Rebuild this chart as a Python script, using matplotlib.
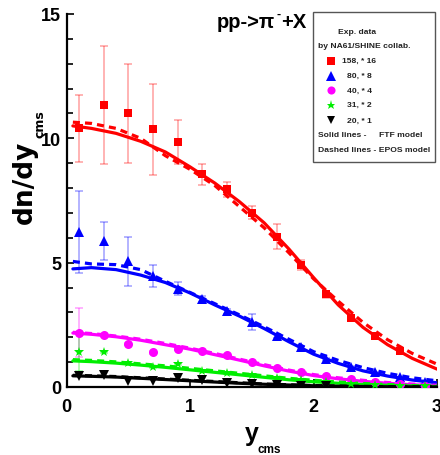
import matplotlib
matplotlib.use("Agg")
import matplotlib.pyplot as plt
from matplotlib import font_manager
from matplotlib.lines import Line2D
from matplotlib.patches import Rectangle

# ---------------- data ----------------
x_model = [0.05, 0.2, 0.4, 0.6, 0.8, 1.0, 1.2, 1.4, 1.6, 1.8, 2.0, 2.2, 2.4, 2.6, 2.8, 3.0]

ftf_158 = [10.5, 10.4, 10.2, 9.88, 9.45, 8.85, 8.2, 7.45, 6.6, 5.55, 4.4, 3.3, 2.4, 1.7, 1.15, 0.72]
epos_158 = [10.65, 10.6, 10.4, 10.0, 9.3, 8.75, 8.1, 7.25, 6.4, 5.4, 4.35, 3.45, 2.6, 1.9, 1.35, 0.92]
ftf_80 = [4.75, 4.8, 4.72, 4.5, 4.2, 3.78, 3.3, 2.85, 2.35, 1.82, 1.32, 0.95, 0.65, 0.44, 0.28, 0.17]
epos_80 = [5.05, 4.95, 4.92, 4.72, 4.25, 3.8, 3.35, 2.9, 2.42, 1.92, 1.42, 1.07, 0.78, 0.55, 0.37, 0.25]
ftf_40 = [2.17, 2.12, 2.02, 1.88, 1.7, 1.52, 1.3, 1.08, 0.85, 0.64, 0.46, 0.33, 0.23, 0.15, 0.09, 0.05]
epos_40 = [2.2, 2.15, 2.05, 1.92, 1.75, 1.56, 1.35, 1.12, 0.9, 0.68, 0.5, 0.37, 0.27, 0.18, 0.12, 0.07]
ftf_31 = [1.05, 1.02, 0.96, 0.88, 0.79, 0.69, 0.59, 0.49, 0.39, 0.29, 0.21, 0.15, 0.1, 0.07, 0.04, 0.02]
epos_31 = [1.1, 1.07, 1.01, 0.93, 0.85, 0.75, 0.65, 0.55, 0.45, 0.35, 0.27, 0.2, 0.14, 0.1, 0.06, 0.04]
ftf_20 = [0.45, 0.43, 0.4, 0.35, 0.3, 0.25, 0.2, 0.15, 0.11, 0.08, 0.05, 0.03, 0.02, 0.01, 0.005, 0.0]
epos_20 = [0.47, 0.45, 0.42, 0.37, 0.32, 0.27, 0.22, 0.17, 0.12, 0.09, 0.06, 0.04, 0.025, 0.015, 0.01, 0.005]

x_158 = [0.1, 0.3, 0.5, 0.7, 0.9, 1.1, 1.3, 1.5, 1.7, 1.9, 2.1, 2.3, 2.5, 2.7]
y_158 = [10.4, 11.33, 11.0, 10.36, 9.85, 8.55, 7.96, 7.01, 6.05, 4.92, 3.72, 2.79, 2.05, 1.45]
e_158 = [1.35, 2.38, 2.0, 1.83, 0.9, 0.43, 0.3, 0.25, 0.52, 0.2, 0.15, 0.12, 0.1, 0.08]

x_80 = [0.1, 0.3, 0.5, 0.7, 0.9, 1.1, 1.3, 1.5, 1.7, 1.9, 2.1, 2.3, 2.5, 2.7, 2.9]
y_80 = [6.25, 5.88, 5.05, 4.45, 3.96, 3.52, 3.05, 2.61, 2.05, 1.59, 1.12, 0.79, 0.59, 0.39, 0.21]
e_80 = [1.65, 0.77, 1.0, 0.44, 0.27, 0.12, 0.1, 0.32, 0.08, 0.06, 0.05, 0.04, 0.03, 0.03, 0.02]

x_40 = [0.1, 0.3, 0.5, 0.7, 0.9, 1.1, 1.3, 1.5, 1.7, 1.9, 2.1, 2.3, 2.5, 2.7, 2.9]
y_40 = [2.19, 2.08, 1.72, 1.39, 1.52, 1.43, 1.28, 0.99, 0.75, 0.59, 0.45, 0.32, 0.2, 0.12, 0.06]
e_40 = [1.0, 0.05, 0.05, 0.05, 0.05, 0.04, 0.04, 0.03, 0.03, 0.02, 0.02, 0.02, 0.01, 0.01, 0.01]

x_31 = [0.1, 0.3, 0.5, 0.7, 0.9, 1.1, 1.3, 1.5, 1.7, 1.9, 2.1, 2.3, 2.5, 2.7, 2.9]
y_31 = [1.41, 1.41, 0.95, 0.79, 0.92, 0.65, 0.55, 0.47, 0.38, 0.28, 0.2, 0.14, 0.1, 0.06, 0.04]
e_31 = [0.75, 0.03, 0.03, 0.03, 0.03, 0.02, 0.02, 0.02, 0.02, 0.01, 0.01, 0.01, 0.01, 0.01, 0.01]

x_20 = [0.1, 0.3, 0.5, 0.7, 0.9, 1.1, 1.3, 1.5, 1.7, 1.9, 2.1]
y_20 = [0.45, 0.5, 0.25, 0.25, 0.35, 0.3, 0.18, 0.13, 0.09, 0.06, 0.04]

legend_labels = ["158, * 16", "80, * 8", "40, * 4", "31, * 2", "20, * 1"]
x_ticks = [0, 1, 2, 3]
y_ticks = [0, 5, 10, 15]

# ---------------- fonts ----------------
def have(name):
    try:
        font_manager.findfont(font_manager.FontProperties(family=name), fallback_to_default=False)
        return True
    except Exception:
        return False

MAIN = "Liberation Sans" if have("Liberation Sans") else "DejaVu Sans"
plt.rcParams['font.family'] = [MAIN, 'DejaVu Sans']

W, H = 440, 456
fig = plt.figure(figsize=(W / 100, H / 100), dpi=100)
ax = fig.add_axes([66.7 / W, (H - 388) / H, 370.3 / W, 373 / H])

series = [
    (x_158, y_158, e_158, ftf_158, epos_158, 'red', 's', 6),
    (x_80, y_80, e_80, ftf_80, epos_80, '#0000ff', '^', 7.5),
    (x_40, y_40, e_40, ftf_40, epos_40, '#ff00ff', 'o', 6.5),
    (x_31, y_31, e_31, ftf_31, epos_31, '#00ee00', '*', 7.5),
    (x_20, y_20, None, ftf_20, epos_20, 'black', 'v', 7),
]

for xs, ys, es, ftf, epos, col, mk, ms in series:
    ax.plot(x_model, ftf, color=col, lw=2.3, solid_capstyle='round', zorder=3)
    ax.plot(x_model, epos, color=col, lw=2.3, linestyle=(0, (2.2, 1.6)), zorder=3)
    if es is not None:
        ax.errorbar(xs, ys, yerr=es, fmt='none', ecolor=col, alpha=0.35,
                     elinewidth=1.2, capsize=3, capthick=1.2, zorder=2)
    ax.plot(xs, ys, linestyle='none', marker=mk, color=col, markersize=ms,
            markeredgewidth=0, zorder=4)

ax.set_xlim(0, 3)
ax.set_ylim(0, 15)
ax.spines['top'].set_visible(False)
ax.spines['right'].set_visible(False)
for s in ('left', 'bottom'):
    ax.spines[s].set_linewidth(1.6)
ax.set_xticks(x_ticks)
ax.set_yticks(y_ticks)
ax.set_yticks(range(0, 16), minor=True)
ax.tick_params(axis='both', which='both', direction='in', width=1.2, color='black')
ax.tick_params(axis='y', which='major', length=5, pad=4)
ax.tick_params(axis='y', which='minor', length=4)
ax.tick_params(axis='x', which='major', length=6, pad=8)
for lab in ax.get_xticklabels() + ax.get_yticklabels():
    lab.set_fontsize(13)
    lab.set_fontweight('bold')
    lab.set_family(MAIN)

def fx(px):
    return px / W

def fy(py):
    return (H - py) / H

# axis labels
fig.text(fx(245), fy(441), "y", fontsize=18, fontweight='bold', family=MAIN,
         ha='left', va='baseline')
fig.text(fx(258), fy(453), "cms", fontsize=8.5, fontweight='bold', family=MAIN,
         ha='left', va='baseline')
fig.text(fx(32), fy(224), "dn/dy", fontsize=19, fontweight='bold', family='DejaVu Sans',
         rotation=90, rotation_mode='anchor', ha='left', va='baseline')
fig.text(fx(43), fy(138), "cms", fontsize=9, fontweight='bold', family='DejaVu Sans',
         rotation=90, rotation_mode='anchor', ha='left', va='baseline')

# title
fig.text(fx(217), fy(28), "pp->\u03c0", fontsize=14.5, fontweight='bold', family=MAIN,
         ha='left', va='baseline')
fig.text(fx(276.5), fy(18), "-", fontsize=9, fontweight='bold', family=MAIN,
         ha='left', va='baseline')
fig.text(fx(281.5), fy(28), "+X", fontsize=14.5, fontweight='bold', family=MAIN,
         ha='left', va='baseline')

# legend box
fig.patches.append(Rectangle((fx(312.5), fy(162.5)), (434.5 - 312.5) / W, (162.5 - 12.5) / H,
                             transform=fig.transFigure, facecolor='white',
                             edgecolor='#555555', lw=1.0, zorder=5))
lfs = 6.1
def ltext(px, py, s):
    fig.text(fx(px), fy(py), s, fontsize=lfs, fontweight='bold', family=MAIN,
             ha='left', va='center', zorder=6, color='#222222')

ltext(338, 33, "Exp. data")
ltext(317.5, 46.5, "by NA61/SHINE collab.")
rows_y = [61.7, 76.7, 91.3, 105.7, 121]
text_x = [341.7, 346.7, 346.7, 346.7, 346.7]
for (xs, ys, es, ftf, epos, col, mk, ms), ry, tx, lab in zip(series, rows_y, text_x, legend_labels):
    fig.add_artist(Line2D([fx(330.7)], [fy(ry)], transform=fig.transFigure, marker=mk,
                          color=col, markersize=ms * 0.9, markeredgewidth=0,
                          linestyle='none', zorder=6))
    ltext(tx, ry, lab)
ltext(317.5, 135.5, "Solid lines -")
ltext(379.3, 135.5, "FTF model")
ltext(317.5, 150, "Dashed lines - EPOS model")

fig.savefig("out.png", dpi=100)
